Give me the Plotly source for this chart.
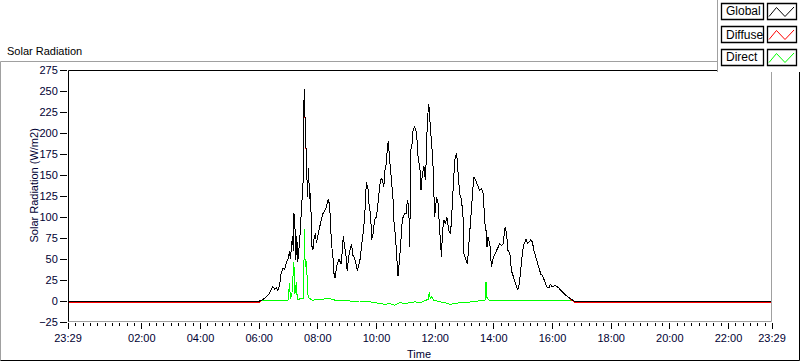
import plotly.graph_objects as go

# ---------------- data ----------------
START = "2024-05-31 23:29"
END = "2024-06-01 23:29"
DAY = "2024-06-01"

GLOBAL_TIMES = [
    "05:41", "06:01", "06:08", "06:15", "06:21", "06:26", "06:28", "06:32", "06:35", "06:38",
    "06:42", "06:45", "06:49", "06:52", "06:56", "06:59", "07:02", "07:04", "07:08", "07:10",
    "07:11", "07:13", "07:15", "07:17", "07:19", "07:23", "07:26", "07:28", "07:30", "07:32",
    "07:34", "07:35", "07:37", "07:39", "07:41", "07:43", "07:45", "07:46", "07:48", "07:50",
    "07:52", "07:55", "07:57", "08:00", "08:04", "08:07", "08:11", "08:14", "08:18", "08:21",
    "08:23", "08:24", "08:28", "08:31", "08:33", "08:35", "08:39", "08:43", "08:48", "08:52",
    "08:55", "08:58", "09:00", "09:03", "09:07", "09:09", "09:12", "09:15", "09:19", "09:21",
    "09:26", "09:30", "09:34", "09:38", "09:39", "09:43", "09:45", "09:48", "09:50", "09:53",
    "09:56", "10:00", "10:05", "10:08", "10:11", "10:15", "10:17", "10:20", "10:22", "10:24",
    "10:27", "10:31", "10:34", "10:36", "10:39", "10:41", "10:44", "10:48", "10:50", "10:53",
    "10:58", "11:01", "11:03", "11:06", "11:08", "11:10", "11:12", "11:15", "11:18", "11:22",
    "11:25", "11:29", "11:31", "11:34", "11:37", "11:40", "11:42", "11:44", "11:47", "11:49",
    "11:52", "11:55", "11:57", "11:59", "12:03", "12:06", "12:08", "12:11", "12:13", "12:15",
    "12:18", "12:21", "12:24", "12:28", "12:31", "12:33", "12:37", "12:40", "12:44", "12:47",
    "12:50", "12:54", "12:57", "12:59", "13:04", "13:06", "13:10", "13:12", "13:16", "13:19",
    "13:21", "13:25", "13:28", "13:31", "13:35", "13:38", "13:42", "13:45", "13:46", "13:48",
    "13:52", "13:55", "13:59", "14:02", "14:06", "14:09", "14:12", "14:16", "14:19", "14:23",
    "14:26", "14:29", "14:33", "14:36", "14:40", "14:43", "14:46", "14:49", "14:52", "14:55",
    "14:59", "15:02", "15:06", "15:09", "15:12", "15:16", "15:19", "15:22", "15:26", "15:30",
    "15:33", "15:36", "15:40", "15:43", "15:46", "15:49", "15:53", "15:56", "15:59", "16:03",
    "16:07", "16:12", "16:15", "16:21", "16:25", "16:31", "16:38", "16:44",
]
GLOBAL_VALUES = [
    0, 0, 2, 5, 9, 15, 17, 14, 16, 12,
    19, 33, 39, 37, 47, 50, 59, 50, 77, 60,
    105, 93, 49, 77, 47, 73, 105, 124, 144, 252,
    212, 200, 156, 124, 158, 122, 128, 96, 65, 61,
    73, 81, 69, 77, 89, 97, 105, 107, 113, 121,
    117, 116, 68, 52, 33, 27, 42, 50, 44, 77,
    64, 52, 36, 52, 64, 68, 54, 52, 42, 36,
    48, 68, 88, 120, 142, 132, 112, 104, 73, 80,
    97, 100, 124, 144, 146, 136, 154, 164, 180, 190,
    168, 140, 120, 92, 76, 56, 30, 56, 80, 98,
    104, 104, 120, 112, 64, 180, 182, 204, 208, 200,
    172, 156, 132, 152, 160, 144, 172, 216, 234, 221,
    192, 172, 124, 100, 124, 116, 96, 60, 52, 84,
    96, 92, 100, 84, 80, 92, 140, 168, 176, 148,
    128, 120, 100, 56, 48, 44, 76, 92, 132, 148,
    146, 140, 136, 132, 134, 128, 92, 80, 64, 76,
    68, 40, 52, 56, 60, 64, 68, 66, 68, 88,
    80, 60, 56, 36, 28, 22, 16, 13, 20, 40,
    60, 68, 74, 68, 70, 73, 70, 60, 52, 44,
    40, 32, 30, 24, 20, 16, 16, 20, 17, 18,
    18, 16, 14, 10, 8, 5, 2, 0,
]
# Diffuse coincides with Global during the day and sits one pixel below it at night
DIFFUSE_VALUES = [
    -1.2, -1.2, 2, 5, 9, 15, 17, 14, 16, 12,
    19, 33, 39, 37, 47, 50, 59, 50, 77, 60,
    105, 93, 49, 77, 47, 73, 105, 124, 144, 250,
    212, 200, 156, 124, 158, 122, 128, 96, 65, 61,
    73, 81, 69, 77, 89, 97, 105, 107, 113, 121,
    117, 116, 68, 52, 33, 27, 42, 50, 44, 77,
    64, 52, 36, 52, 64, 68, 54, 52, 42, 36,
    48, 68, 88, 120, 142, 132, 112, 104, 73, 80,
    97, 100, 124, 144, 146, 136, 154, 164, 180, 190,
    168, 140, 120, 92, 76, 56, 30, 56, 80, 98,
    104, 104, 120, 112, 64, 180, 182, 204, 208, 200,
    172, 156, 132, 152, 160, 144, 172, 216, 234, 221,
    192, 172, 124, 100, 124, 116, 96, 60, 52, 84,
    96, 92, 100, 84, 80, 92, 140, 168, 176, 148,
    128, 120, 100, 56, 48, 44, 76, 92, 132, 148,
    146, 140, 136, 132, 134, 128, 92, 80, 64, 76,
    68, 40, 52, 56, 60, 64, 68, 66, 68, 88,
    80, 60, 56, 36, 28, 22, 16, 13, 20, 40,
    60, 68, 74, 68, 70, 73, 70, 60, 52, 44,
    40, 32, 30, 24, 20, 16, 16, 20, 17, 18,
    18, 16, 14, 10, 8, 5, 2, -1.2,
]
DIRECT_TIMES = [
    "06:01", "06:59", "07:02", "07:04", "07:07", "07:11", "07:13", "07:16", "07:18", "07:30",
    "07:32", "07:33", "07:34", "07:37", "07:39", "07:41", "07:48", "08:10", "08:24", "08:35",
    "08:45", "09:05", "09:25", "09:46", "10:06", "10:17", "10:27", "10:37", "10:48", "10:58",
    "11:08", "11:18", "11:29", "11:39", "11:46", "11:48", "11:50", "11:53", "11:57", "12:10",
    "12:20", "12:30", "12:40", "12:50", "13:00", "13:11", "13:31", "13:42", "13:44", "13:46",
    "13:50", "14:12", "14:53", "15:34", "16:15", "16:44",
]
DIRECT_VALUES = [
    1, 1, 21, 2, 8, 46, 8, 22, 2, 3,
    55, 86, 40, 48, 10, 4, 1, 2, 3, 1,
    1, 0, 0, -1, -3, -4, -3, -5, -2, -3,
    -2, -1, -2, 0, 2, 11, 3, 5, 1, -1,
    -2, -4, -3, -2, -2, -1, 0, 1, 23, 4,
    1, 1, 1, 1, 1, 0,
]

SERIES_NAMES = ["Global", "Diffuse", "Direct"]
SERIES_COLORS = ["#000000", "#ff0000", "#00ff00"]

Y_TICKS = [-25, 0, 25, 50, 75, 100, 125, 150, 175, 200, 225, 250, 275]
X_TICK_TIMES = [START, DAY + " 02:00", DAY + " 04:00", DAY + " 06:00", DAY + " 08:00",
                DAY + " 10:00", DAY + " 12:00", DAY + " 14:00", DAY + " 16:00",
                DAY + " 18:00", DAY + " 20:00", DAY + " 22:00", END]
X_TICK_TEXT = ["23:29", "02:00", "04:00", "06:00", "08:00", "10:00", "12:00",
               "14:00", "16:00", "18:00", "20:00", "22:00", "23:29"]

# ---------------- layout geometry ----------------
W, H = 800, 361
L, R, T, B = 68, 28, 70, 39
PW, PH = W - L - R, H - T - B


def px(x):
    return (x - L) / PW


def py(y):
    return (H - B - y) / PH


def full(times):
    return [DAY + " " + t for t in times]


g_x = [START] + full(GLOBAL_TIMES) + [END]
g_y = [0] + GLOBAL_VALUES + [0]
d_y = [-1.2] + DIFFUSE_VALUES + [-1.2]
r_x = full(DIRECT_TIMES)
r_y = DIRECT_VALUES

fig = go.Figure()
fig.add_trace(go.Scatter(x=r_x, y=r_y, mode="lines", name=SERIES_NAMES[2],
                         line=dict(color=SERIES_COLORS[2], width=1), showlegend=False))
fig.add_trace(go.Scatter(x=g_x, y=d_y, mode="lines", name=SERIES_NAMES[1],
                         line=dict(color=SERIES_COLORS[1], width=1), showlegend=False))
fig.add_trace(go.Scatter(x=g_x, y=g_y, mode="lines", name=SERIES_NAMES[0],
                         line=dict(color=SERIES_COLORS[0], width=1), showlegend=False))

# minor ticks every 15 minutes
minor_vals = ["2024-05-31 23:30", "2024-05-31 23:45"]
for h in range(0, 24):
    for m in (0, 15, 30, 45):
        if h == 23 and m > 15:
            continue
        minor_vals.append(f"{DAY} {h:02d}:{m:02d}")

FONT = "Liberation Sans"

fig.update_layout(
    width=W, height=H,
    margin=dict(l=L, r=R, t=T, b=B, autoexpand=False),
    paper_bgcolor="white", plot_bgcolor="white",
    showlegend=False,
    font=dict(family=FONT, size=11, color="black"),
    xaxis=dict(
        type="date", range=[START, END], autorange=False, automargin=False,
        tickmode="array", tickvals=X_TICK_TIMES, ticktext=X_TICK_TEXT,
        ticks="outside", ticklen=6, tickcolor="black", tickwidth=1,
        showgrid=False, zeroline=False, showline=False,
        tickfont=dict(family=FONT, size=11, color="#000033"),
        minor=dict(ticks="outside", ticklen=3, tickcolor="black", tickwidth=1,
                   tickmode="array", tickvals=minor_vals, showgrid=False),
    ),
    yaxis=dict(
        range=[-25, 275], autorange=False, automargin=False,
        tickmode="array", tickvals=Y_TICKS,
        ticks="outside", ticklen=7, tickcolor="black", tickwidth=1,
        showgrid=False, zeroline=False, showline=False,
        tickfont=dict(family=FONT, size=11, color="#000033"),
    ),
)

shapes = []


def line(x0, y0, x1, y1, color, width=1):
    shapes.append(dict(type="line", xref="paper", yref="paper",
                       x0=px(x0), y0=py(y0), x1=px(x1), y1=py(y1),
                       line=dict(color=color, width=width), layer="above"))


# outer frame
line(0.5, 360.5, 0.5, 61.5, "#a0a0a0")
line(0.5, 61.5, 799.5, 61.5, "#a0a0a0")
line(799.5, 61.5, 799.5, 360.5, "#000000")
line(0.5, 360.5, 799.5, 360.5, "#000000")
# plot frame
line(68.5, 70.5, 68.5, 322, "#000000")
line(68.5, 70.5, 772, 70.5, "#000000")
line(771.5, 70.5, 771.5, 321.5, "#a0a0a0")
line(68.5, 321.5, 771.5, 321.5, "#a0a0a0")

# legend panel
shapes.append(dict(type="rect", xref="paper", yref="paper",
                   x0=px(717), y0=py(72), x1=px(800), y1=py(0),
                   fillcolor="white", line=dict(width=0), layer="above"))
line(717.5, 0, 717.5, 72, "#a0a0a0")

annotations = []
row_tops = [3.5, 26.5, 49.5]
for name, color, top in zip(SERIES_NAMES, SERIES_COLORS, row_tops):
    bot = top + 16
    shapes.append(dict(type="rect", xref="paper", yref="paper",
                       x0=px(721.5), y0=py(bot), x1=px(763.5), y1=py(top),
                       fillcolor="white", line=dict(color="black", width=1.3), layer="above"))
    shapes.append(dict(type="rect", xref="paper", yref="paper",
                       x0=px(767.5), y0=py(bot), x1=px(796.5), y1=py(top),
                       fillcolor="white", line=dict(color="black", width=1.3), layer="above"))
    pts = [(769, top + 13), (776.5, top + 4), (785, top + 13), (794, top + 3.5)]
    path = "M " + " L ".join(f"{px(a):.5f},{py(b):.5f}" for a, b in pts)
    shapes.append(dict(type="path", xref="paper", yref="paper", path=path,
                       line=dict(color=color, width=1), layer="above"))
    annotations.append(dict(text=name, xref="paper", yref="paper",
                            x=px(723.5), y=py(top + 8), xanchor="left", yanchor="middle",
                            showarrow=False, font=dict(family=FONT, size=12, color="black")))

annotations.append(dict(text="Solar Radiation", xref="paper", yref="paper",
                        x=px(5), y=py(50.5), xanchor="left", yanchor="middle",
                        showarrow=False, font=dict(family=FONT, size=11, color="black")))
annotations.append(dict(text="Solar Radiation (W/m2)", xref="paper", yref="paper",
                        x=px(33.5), y=py(186), xanchor="center", yanchor="middle",
                        textangle=-90, showarrow=False,
                        font=dict(family=FONT, size=11, color="#000033")))
annotations.append(dict(text="Time", xref="paper", yref="paper",
                        x=px(419), y=py(354), xanchor="center", yanchor="middle",
                        showarrow=False, font=dict(family=FONT, size=11, color="#000033")))

fig.update_layout(shapes=shapes, annotations=annotations)

POST = (
    "document.body.style.margin='0';document.body.style.overflow='hidden';"
    "document.querySelectorAll('.scatterlayer path.js-line').forEach(function(p){"
    "p.style.shapeRendering='crispEdges';});"
)
fig.write_html("out.html", post_script=POST, config={"displayModeBar": False})
